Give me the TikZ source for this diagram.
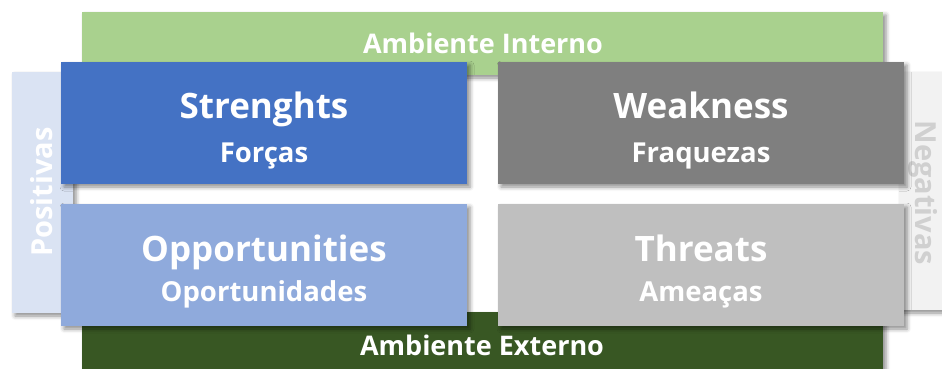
\documentclass[tikz,border=0pt]{standalone}
\usepackage{fontspec}
\setmainfont{Open Sans}[BoldFont={Open Sans Bold}]
\usetikzlibrary{shadows.blur}
\definecolor{cGreen}{HTML}{A9D18E}
\definecolor{cDarkGreen}{HTML}{385723}
\definecolor{cBlue}{HTML}{4472C4}
\definecolor{cLightBlue}{HTML}{8FAADC}
\definecolor{cPale}{HTML}{DAE3F3}
\definecolor{cGray}{HTML}{7F7F7F}
\definecolor{cLightGray}{HTML}{BFBFBF}
\definecolor{cNeg}{HTML}{F2F2F2}
\definecolor{cNegText}{HTML}{D0D0D0}
\tikzset{
  panel/.style={draw=none, blur shadow={shadow xshift=3pt, shadow yshift=-3pt, shadow blur radius=4pt, shadow opacity=45}},
  bigtxt/.style={text=white, font=\bfseries\fontsize{35}{40}\selectfont, anchor=base, inner sep=0pt},
  subtxt/.style={text=white, font=\bfseries\fontsize{27.5}{30}\selectfont, anchor=base, inner sep=0pt},
  bartxt/.style={text=white, font=\bfseries\fontsize{27}{30}\selectfont, anchor=base, inner sep=0pt},
  sidetxt/.style={font=\bfseries\fontsize{29}{32}\selectfont, inner sep=0pt},
}
\begin{document}
\begin{tikzpicture}[x=1pt,y=-1pt]
\useasboundingbox (0,0) rectangle (942,369);
% background bars
\fill[cGreen, panel] (82,12) rectangle (883,75);
\fill[cDarkGreen, panel] (82,312) rectangle (883,369);
\fill[cPale, panel] (12,72) rectangle (73,313);
\fill[cNeg, panel] (899,72) rectangle (942,310);
\node[bartxt] (intern) at (483,54) {Ambiente Interno};
\node[bartxt] (extern) at (482,355) {Ambiente Externo};
\node[sidetxt, text=white, rotate=90] (pos) at (42,192) {Positivas};
\node[sidetxt, text=cNegText, rotate=-90] (neg) at (923,193) {Negativas};
% quadrants
\fill[cBlue, panel] (61,62) rectangle (467,184);
\fill[cGray, panel] (498,62) rectangle (904,184);
\fill[cLightBlue, panel] (61,204) rectangle (467,326);
\fill[cLightGray, panel] (498,204) rectangle (904,326);
\node[bigtxt] (s) at (264,118) {Strenghts};
\node[subtxt] (sf) at (264,162) {Forças};
\node[bigtxt] (w) at (701,118) {Weakness};
\node[subtxt] (wf) at (701,162) {Fraquezas};
\node[bigtxt] (o) at (264,261) {Opportunities};
\node[subtxt] (of) at (264,301) {Oportunidades};
\node[bigtxt] (t) at (701,261) {Threats};
\node[subtxt] (tf) at (701,301) {Ameaças};
\end{tikzpicture}
\end{document}
